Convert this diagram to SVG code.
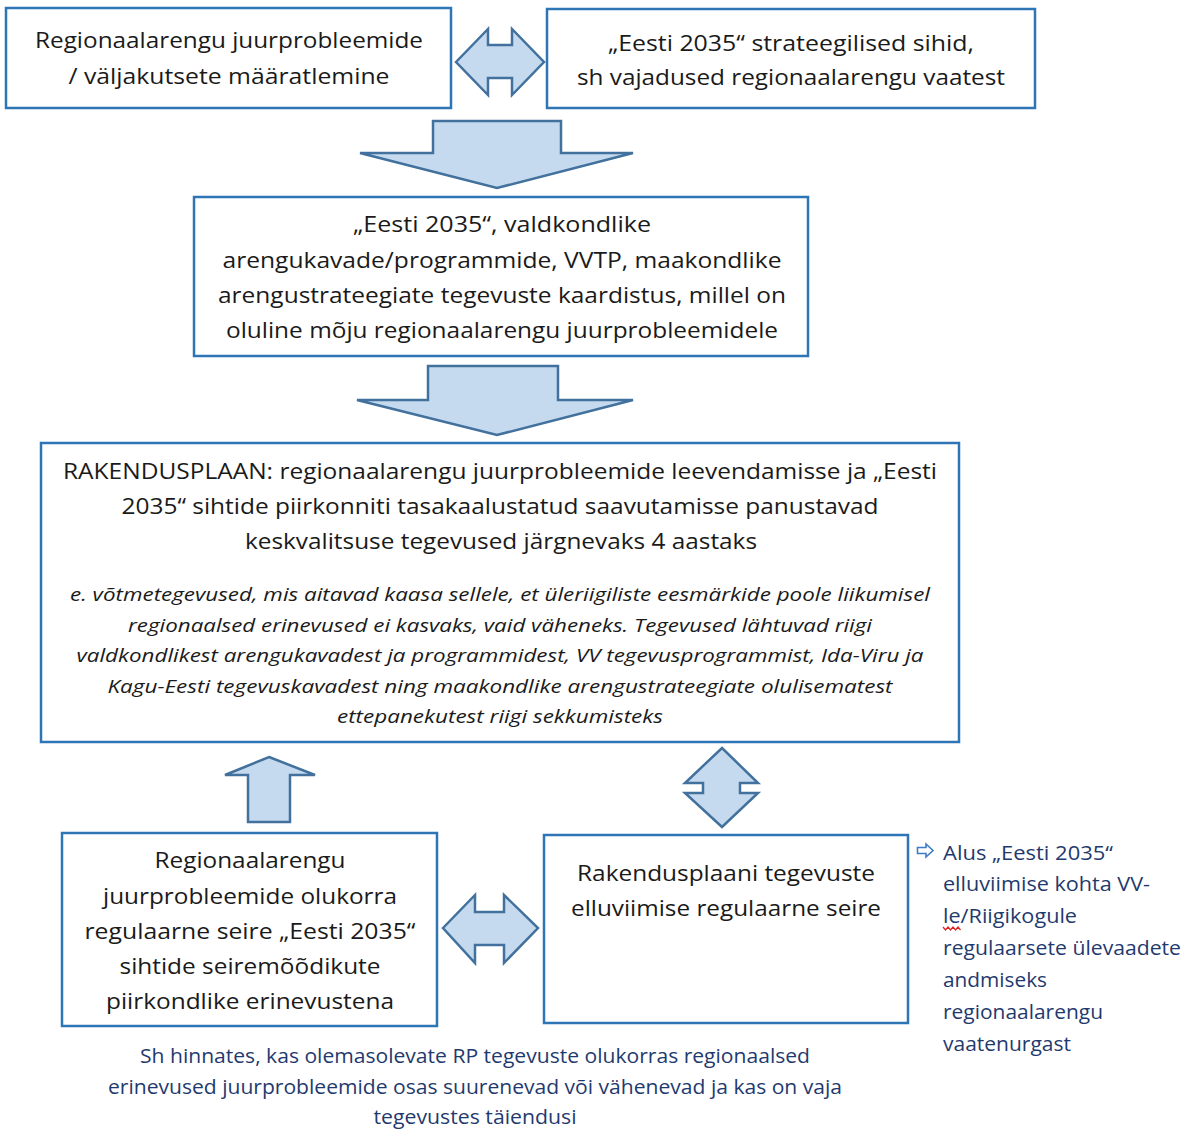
<svg xmlns="http://www.w3.org/2000/svg" width="1189" height="1129" viewBox="0 0 1189 1129">
<style>
.box{fill:#fff;stroke:#2E75B6;stroke-width:2.5}
.arr{fill:#C5DAEF;stroke:#41719C;stroke-width:2.5;stroke-linejoin:miter}
.t{font-family:"Open Sans","Noto Sans",sans-serif;font-size:21px;fill:#1a1a1a;text-anchor:middle}
.i{font-family:"Open Sans","Noto Sans",sans-serif;font-size:19px;font-style:italic;fill:#1a1a1a;text-anchor:middle}
.n{font-family:"Open Sans","Noto Sans",sans-serif;font-size:20px;fill:#1F3A6E}
.nc{text-anchor:middle}
</style>
<rect width="1189" height="1129" fill="#fff"/>
<g id="connectors">
<path class="arr" d="M456,62 L488,29 L488,45 L512,45 L512,29 L544,62 L512,95 L512,78 L488,78 L488,95 Z"/>
<path class="arr" d="M433,121 L561,121 L561,153 L633,153 L497,188 L360,153 L433,153 Z"/>
<path class="arr" d="M428,366 L558,366 L558,400 L633,400 L497,435 L357,400 L428,400 Z"/>
<path class="arr" d="M269,757 L315,775 L290,775 L290,822 L248,822 L248,775 L225,775 Z"/>
<path class="arr" d="M722,748 L758,783 L740,783 L740,793 L758,793 L722,827 L685,793 L703,793 L703,783 L685,783 Z"/>
<path class="arr" d="M443,928 L475,895 L475,912 L504,912 L504,895 L538,928 L504,963 L504,945 L475,945 L475,963 Z"/>
</g>
<g id="n1">
<rect class="box" x="6" y="8" width="445" height="100"/>
<text class="t" x="229" y="48" textLength="388" lengthAdjust="spacingAndGlyphs">Regionaalarengu juurprobleemide</text>
<text class="t" x="229" y="84" textLength="321" lengthAdjust="spacingAndGlyphs">/ väljakutsete määratlemine</text>
</g>
<g id="n2">
<rect class="box" x="547" y="9" width="488" height="99"/>
<text class="t" x="791" y="51" textLength="366" lengthAdjust="spacingAndGlyphs">„Eesti 2035“ strateegilised sihid,</text>
<text class="t" x="791" y="85" textLength="428" lengthAdjust="spacingAndGlyphs">sh vajadused regionaalarengu vaatest</text>
</g>
<g id="n3">
<rect class="box" x="194" y="197" width="614" height="159"/>
<text class="t" x="502" y="232" textLength="298" lengthAdjust="spacingAndGlyphs">„Eesti 2035“, valdkondlike</text>
<text class="t" x="502" y="268" textLength="559" lengthAdjust="spacingAndGlyphs">arengukavade/programmide, VVTP, maakondlike</text>
<text class="t" x="502" y="303" textLength="568" lengthAdjust="spacingAndGlyphs">arengustrateegiate tegevuste kaardistus, millel on</text>
<text class="t" x="502" y="338" textLength="552" lengthAdjust="spacingAndGlyphs">oluline mõju regionaalarengu juurprobleemidele</text>
</g>
<g id="n4">
<rect class="box" x="41" y="443" width="918" height="299"/>
<text class="t" x="500" y="479" textLength="874" lengthAdjust="spacingAndGlyphs">RAKENDUSPLAAN: regionaalarengu juurprobleemide leevendamisse ja „Eesti</text>
<text class="t" x="500" y="514" textLength="757" lengthAdjust="spacingAndGlyphs">2035“ sihtide piirkonniti tasakaalustatud saavutamisse panustavad</text>
<text class="t" x="501" y="549" textLength="512" lengthAdjust="spacingAndGlyphs">keskvalitsuse tegevused järgnevaks 4 aastaks</text>
<text class="i" x="500" y="601" textLength="860" lengthAdjust="spacingAndGlyphs">e. võtmetegevused, mis aitavad kaasa sellele, et üleriigiliste eesmärkide poole liikumisel</text>
<text class="i" x="500" y="632" textLength="744" lengthAdjust="spacingAndGlyphs">regionaalsed erinevused ei kasvaks, vaid väheneks. Tegevused lähtuvad riigi</text>
<text class="i" x="500" y="662" textLength="847" lengthAdjust="spacingAndGlyphs">valdkondlikest arengukavadest ja programmidest, VV tegevusprogrammist, Ida-Viru ja</text>
<text class="i" x="500" y="693" textLength="785" lengthAdjust="spacingAndGlyphs">Kagu-Eesti tegevuskavadest ning maakondlike arengustrateegiate olulisematest</text>
<text class="i" x="500" y="723" textLength="326" lengthAdjust="spacingAndGlyphs">ettepanekutest riigi sekkumisteks</text>
</g>
<g id="n5">
<rect class="box" x="62" y="833" width="375" height="193"/>
<text class="t" x="250" y="868" textLength="191" lengthAdjust="spacingAndGlyphs">Regionaalarengu</text>
<text class="t" x="250" y="904" textLength="294" lengthAdjust="spacingAndGlyphs">juurprobleemide olukorra</text>
<text class="t" x="250" y="939" textLength="331" lengthAdjust="spacingAndGlyphs">regulaarne seire „Eesti 2035“</text>
<text class="t" x="250" y="974" textLength="261" lengthAdjust="spacingAndGlyphs">sihtide seiremõõdikute</text>
<text class="t" x="250" y="1009" textLength="288" lengthAdjust="spacingAndGlyphs">piirkondlike erinevustena</text>
</g>
<g id="n6">
<rect class="box" x="544" y="835" width="364" height="188"/>
<text class="t" x="726" y="881" textLength="298" lengthAdjust="spacingAndGlyphs">Rakendusplaani tegevuste</text>
<text class="t" x="726" y="916" textLength="310" lengthAdjust="spacingAndGlyphs">elluviimise regulaarne seire</text>
</g>
<g id="note-side">
<path d="M917.5,847.5 L926,847.5 L926,844 L933,850.5 L926,857 L926,853.5 L917.5,853.5 Z" fill="#fff" stroke="#3E7CC8" stroke-width="1.6" stroke-linejoin="miter"/>
<text class="n" x="943" y="860" textLength="170" lengthAdjust="spacingAndGlyphs">Alus „Eesti 2035“</text>
<text class="n" x="943" y="891" textLength="207" lengthAdjust="spacingAndGlyphs">elluviimise kohta VV-</text>
<text class="n" x="943" y="923" textLength="134" lengthAdjust="spacingAndGlyphs">le/Riigikogule</text>
<text class="n" x="943" y="955" textLength="238" lengthAdjust="spacingAndGlyphs">regulaarsete ülevaadete</text>
<text class="n" x="943" y="987" textLength="104" lengthAdjust="spacingAndGlyphs">andmiseks</text>
<text class="n" x="943" y="1019" textLength="160" lengthAdjust="spacingAndGlyphs">regionaalarengu</text>
<text class="n" x="943" y="1051" textLength="128" lengthAdjust="spacingAndGlyphs">vaatenurgast</text>
<path d="M943,927 l2.5,3 l2.5,-3 l2.5,3 l2.5,-3 l2.5,3 l2.5,-3 l2.5,3" fill="none" stroke="#E02020" stroke-width="1.2"/>
</g>
<g id="note-bottom">
<text class="n nc" x="475" y="1063" textLength="670" lengthAdjust="spacingAndGlyphs">Sh hinnates, kas olemasolevate RP tegevuste olukorras regionaalsed</text>
<text class="n nc" x="475" y="1094" textLength="734" lengthAdjust="spacingAndGlyphs">erinevused juurprobleemide osas suurenevad või vähenevad ja kas on vaja</text>
<text class="n nc" x="475" y="1124" textLength="203" lengthAdjust="spacingAndGlyphs">tegevustes täiendusi</text>
</g>
</svg>
